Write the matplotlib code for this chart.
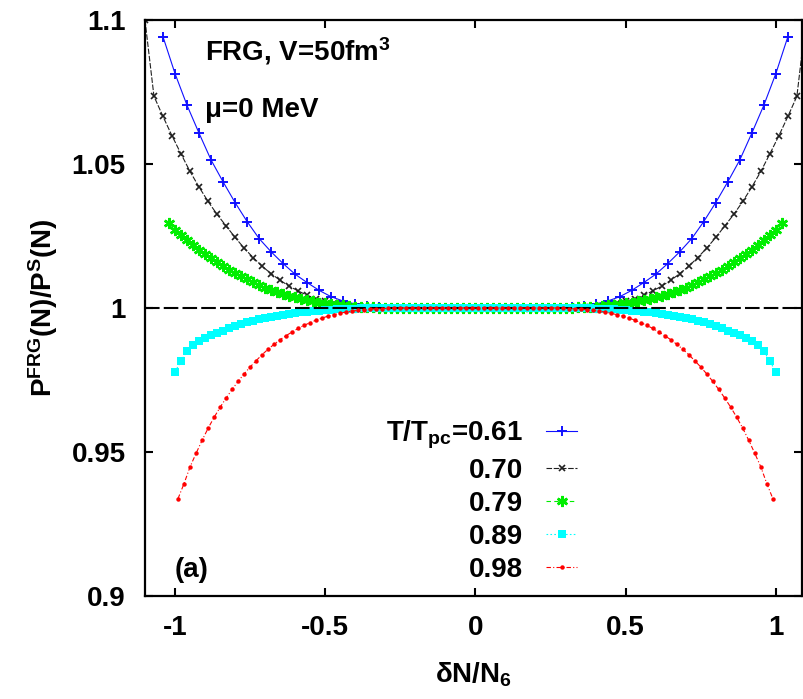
import numpy as np
import matplotlib.pyplot as plt

plt.rcParams['font.family'] = ['Liberation Sans', 'DejaVu Sans']
plt.rcParams['font.weight'] = 'bold'
plt.rcParams['axes.labelweight'] = 'bold'
plt.rcParams['mathtext.fontset'] = 'custom'
plt.rcParams['mathtext.rm'] = 'Liberation Sans:bold'
plt.rcParams['mathtext.it'] = 'Liberation Sans:italic:bold'
plt.rcParams['mathtext.bf'] = 'Liberation Sans:bold'

# T/Tpc values (legend)
labels = ['T/T$_{\\mathrm{pc}}$=0.61', '0.70', '0.79', '0.89', '0.98']

# half curves (dN/N6 >= 0), deviation of P^FRG/P^S from 1; curves are symmetric
x_061 = np.linspace(0, 1.04, 27)
d_061 = [0, 0, 0, 0, 0, 0, 0, 0.0001, 0.0003, 0.0007, 0.0014, 0.0024, 0.0039,
         0.0061, 0.0088, 0.0117, 0.0154, 0.0195, 0.0241, 0.0300, 0.0366,
         0.0438, 0.0514, 0.0607, 0.0704, 0.0814, 0.0942]

x_070 = np.linspace(0.02, 1.10, 37)
d_070 = [0, 0, 0, 0, 0, 0, 0, 0, 0, 0, 0, 0.0001, 0.0003, 0.0006, 0.0010,
         0.0016, 0.0023, 0.0032, 0.0044, 0.0059, 0.0076, 0.0096, 0.0119,
         0.0145, 0.0175, 0.0208, 0.0245, 0.0285, 0.0325, 0.0370, 0.0420,
         0.0474, 0.0535, 0.0598, 0.0665, 0.0735, 0.1000]

x_079 = np.linspace(0, 1.02, 52)
d_079 = [0, 0, 0, 0, 0, 0, 0, 0, 0, 0, 0, 0, 0, 0, 0, 0, 0.0001, 0.0002,
         0.0003, 0.0004, 0.0005, 0.0007, 0.0009, 0.0011, 0.0013, 0.0016,
         0.0019, 0.0023, 0.0027, 0.0032, 0.0037, 0.0043, 0.0049, 0.0056,
         0.0063, 0.0071, 0.0080, 0.0089, 0.0099, 0.0110, 0.0121, 0.0133,
         0.0146, 0.0159, 0.0173, 0.0188, 0.0203, 0.0219, 0.0236, 0.0254,
         0.0272, 0.0294]

x_089 = np.linspace(0, 1.00, 51)
d_089 = [0, 0, 0, 0, 0, 0, 0, 0, 0, 0, 0, 0, 0, 0, 0, 0, 0, 0, -0.0001,
         -0.0001, -0.0002, -0.0003, -0.0004, -0.0005, -0.0006, -0.0007,
         -0.0009, -0.0011, -0.0013, -0.0015, -0.0018, -0.0021, -0.0024,
         -0.0027, -0.0031, -0.0035, -0.0039, -0.0044, -0.0050, -0.0056,
         -0.0063, -0.0071, -0.0079, -0.0087, -0.0095, -0.0104, -0.0115,
         -0.0128, -0.0150, -0.0184, -0.0222]

x_098 = np.linspace(0.01, 0.99, 50)
d_098 = [0, 0, 0, 0, 0, 0, 0, 0, 0, 0, 0, 0, 0, 0, -0.0001, -0.0002, -0.0003,
         -0.0004, -0.0006, -0.0008, -0.0011, -0.0014, -0.0018, -0.0023,
         -0.0028, -0.0035, -0.0042, -0.0051, -0.0060, -0.0071, -0.0083,
         -0.0096, -0.0110, -0.0126, -0.0143, -0.0162, -0.0183, -0.0205,
         -0.0229, -0.0255, -0.0283, -0.0313, -0.0345, -0.0380, -0.0418,
         -0.0460, -0.0505, -0.0552, -0.0610, -0.0662]


def mirror(x, d):
    x = np.asarray(x)
    y = 1 + np.asarray(d)
    if x[0] == 0:
        return np.concatenate([-x[:0:-1], x]), np.concatenate([y[:0:-1], y])
    return np.concatenate([-x[::-1], x]), np.concatenate([y[::-1], y])


fig = plt.figure(figsize=(8.04, 6.99), dpi=100)
ax = fig.add_axes([0.1803, 0.1474, 0.8172, 0.8240])

x, y = mirror(x_061, d_061)
ax.plot(x, y, color='#1010ff', lw=0.8, marker='+', ms=7.5, mew=1.4,
        label=labels[0])
x, y = mirror(x_070, d_070)
ax.plot(x, y, color='#202020', lw=0.8, ls=(0, (5, 1.5)), marker='x', ms=5,
        mew=1.2, label=labels[1])
x, y = mirror(x_079, d_079)
ax.plot(x, y, color='#00ee00', lw=0.8, ls=(0, (4, 3)), marker=(6, 2, 0),
        ms=8, mew=1.8, label=labels[2])
x, y = mirror(x_089, d_089)
ax.plot(x, y, color='#00ffff', lw=0.8, ls=(0, (1.5, 2)), marker='s', ms=6,
        mew=0, label=labels[3])
ax.axhline(1.0, color='black', lw=1.5, ls=(0, (7, 2)), zorder=2.5)
x, y = mirror(x_098, d_098)
ax.plot(x, y, color='#ff0000', lw=0.8, ls=(0, (4, 2, 1, 2)), marker='o',
        ms=3.2, mew=0, label=labels[4], zorder=2.6)

ax.set_xlim(-1.1, 1.087)
ax.set_ylim(0.9, 1.1)
ax.set_xticks([-1, -0.5, 0, 0.5, 1])
ax.set_xticklabels(['-1', '-0.5', '0', '0.5', '1'])
ax.set_yticks([0.9, 0.95, 1.0, 1.05, 1.1])
ax.set_yticklabels(['0.9', '0.95', '1', '1.05', '1.1'])
ax.tick_params(direction='in', length=6, width=1.5, top=True, right=True,
               labelsize=20, pad=14)
for s in ax.spines.values():
    s.set_linewidth(1.6)

ax.set_xlabel('δN/N$_6$', fontsize=20, labelpad=14)
ax.set_ylabel('P$^{\\mathrm{FRG}}$(N)/P$^{\\mathrm{S}}$(N)', fontsize=20,
              labelpad=8)

ax.text(-0.9, 1.0861, 'FRG, V=50fm$^3$', fontsize=20)
ax.text(-0.9, 1.0663, 'μ=0 MeV', fontsize=20)
ax.text(-1.0, 0.9066, '(a)', fontsize=20)

ax.legend(loc='upper right', bbox_to_anchor=(0.6575, 0.3073), frameon=False,
          markerfirst=False, fontsize=20, handlelength=1.1,
          handletextpad=0.85, labelspacing=0.25, borderpad=0,
          borderaxespad=0)

fig.savefig('out.png', dpi=100)
